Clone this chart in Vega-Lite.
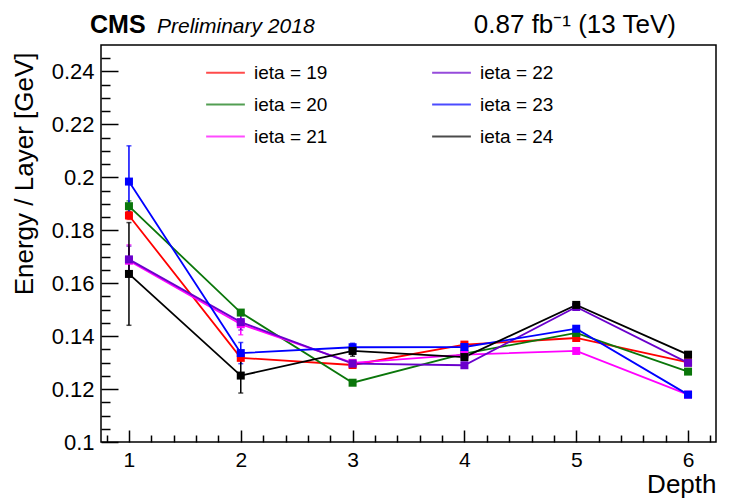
{
  "$schema": "https://vega.github.io/schema/vega-lite/v6.json",
  "autosize": {"type": "none"},
  "padding": {"left": 101, "top": 45, "right": 14, "bottom": 59},
  "width": 615,
  "height": 397,
  "background": "white",
  "config": {
    "view": {"stroke": "black", "strokeWidth": 1.5},
    "font": "Liberation Sans",
    "axis": {
      "labelFont": "Liberation Sans",
      "titleFont": "Liberation Sans",
      "labelColor": "black",
      "titleColor": "black",
      "tickColor": "black",
      "domain": false,
      "grid": false,
      "tickWidth": 1.5,
      "labelFontSize": 22,
      "titleFontSize": 26,
      "titleFontWeight": "normal"
    }
  },
  "data": {
    "values": [
      {"depth": 1, "ieta": "ieta = 19", "v": 0.1856, "err": 0.0015},
      {"depth": 2, "ieta": "ieta = 19", "v": 0.1318, "err": 0.001},
      {"depth": 3, "ieta": "ieta = 19", "v": 0.1291, "err": 0.0008},
      {"depth": 4, "ieta": "ieta = 19", "v": 0.1368, "err": 0.0008},
      {"depth": 5, "ieta": "ieta = 19", "v": 0.1393, "err": 0.0006},
      {"depth": 6, "ieta": "ieta = 19", "v": 0.1301, "err": 0.0006},
      {"depth": 1, "ieta": "ieta = 20", "v": 0.1891, "err": 0.002},
      {"depth": 2, "ieta": "ieta = 20", "v": 0.1489, "err": 0.001},
      {"depth": 3, "ieta": "ieta = 20", "v": 0.1224, "err": 0.0008},
      {"depth": 4, "ieta": "ieta = 20", "v": 0.1334, "err": 0.0008},
      {"depth": 5, "ieta": "ieta = 20", "v": 0.1412, "err": 0.0006},
      {"depth": 6, "ieta": "ieta = 20", "v": 0.1266, "err": 0.0006},
      {"depth": 1, "ieta": "ieta = 21", "v": 0.1685, "err": 0.006},
      {"depth": 2, "ieta": "ieta = 21", "v": 0.1445, "err": 0.004},
      {"depth": 3, "ieta": "ieta = 21", "v": 0.1299, "err": 0.001},
      {"depth": 4, "ieta": "ieta = 21", "v": 0.1330, "err": 0.0008},
      {"depth": 5, "ieta": "ieta = 21", "v": 0.1344, "err": 0.0006},
      {"depth": 6, "ieta": "ieta = 21", "v": 0.1179, "err": 0.0006},
      {"depth": 1, "ieta": "ieta = 22", "v": 0.1690, "err": 0.005},
      {"depth": 2, "ieta": "ieta = 22", "v": 0.1453, "err": 0.003},
      {"depth": 3, "ieta": "ieta = 22", "v": 0.1296, "err": 0.001},
      {"depth": 4, "ieta": "ieta = 22", "v": 0.1290, "err": 0.0008},
      {"depth": 5, "ieta": "ieta = 22", "v": 0.1510, "err": 0.0006},
      {"depth": 6, "ieta": "ieta = 22", "v": 0.1299, "err": 0.0006},
      {"depth": 1, "ieta": "ieta = 23", "v": 0.1984, "err": 0.0135},
      {"depth": 2, "ieta": "ieta = 23", "v": 0.1336, "err": 0.004},
      {"depth": 3, "ieta": "ieta = 23", "v": 0.1358, "err": 0.0015},
      {"depth": 4, "ieta": "ieta = 23", "v": 0.1359, "err": 0.001},
      {"depth": 5, "ieta": "ieta = 23", "v": 0.1428, "err": 0.0008},
      {"depth": 6, "ieta": "ieta = 23", "v": 0.1179, "err": 0.0006},
      {"depth": 1, "ieta": "ieta = 24", "v": 0.1635, "err": 0.0194},
      {"depth": 2, "ieta": "ieta = 24", "v": 0.1251, "err": 0.0066},
      {"depth": 3, "ieta": "ieta = 24", "v": 0.1344, "err": 0.002},
      {"depth": 4, "ieta": "ieta = 24", "v": 0.1321, "err": 0.001},
      {"depth": 5, "ieta": "ieta = 24", "v": 0.1518, "err": 0.0008},
      {"depth": 6, "ieta": "ieta = 24", "v": 0.1330, "err": 0.0006}
    ]
  },
  "resolve": {"axis": {"x": "independent", "y": "independent"}},
  "layer": [
    {
      "mark": {"type": "errorbar", "ticks": {"size": 5}, "thickness": 1.5},
      "encoding": {
        "x": {"field": "depth", "type": "quantitative",
              "scale": {"domain": [0.75, 6.25], "nice": false, "zero": false},
              "axis": {"orient": "bottom", "values": [0.8, 1.2, 1.4, 1.6, 1.8, 2.2, 2.4, 2.6, 2.8, 3.2, 3.4, 3.6, 3.8, 4.2, 4.4, 4.6, 4.8, 5.2, 5.4, 5.6, 5.8, 6.2], "labels": false, "tickSize": -7, "title": null}},
        "y": {"field": "v", "type": "quantitative",
              "scale": {"domain": [0.1, 0.25], "nice": false, "zero": false},
              "axis": {"orient": "left", "values": [0.105, 0.11, 0.115, 0.125, 0.13, 0.135, 0.145, 0.15, 0.155, 0.165, 0.17, 0.175, 0.185, 0.19, 0.195, 0.205, 0.21, 0.215, 0.225, 0.23, 0.235, 0.245], "labels": false, "tickSize": -9, "title": null}},
        "yError": {"field": "err"},
        "color": {"field": "ieta", "type": "nominal"}
      }
    },
    {
      "mark": {"type": "line", "strokeWidth": 1.8, "point": {"shape": "square", "filled": true, "size": 64, "opacity": 1}},
      "encoding": {
        "x": {"field": "depth", "type": "quantitative",
              "axis": {"orient": "bottom", "values": [1, 2, 3, 4, 5, 6], "tickSize": -12, "labelPadding": 19, "labelFontSize": 21, "title": "Depth", "titleAnchor": "end", "titleAlign": "right", "titleX": 615, "titleY": 50, "titleBaseline": "alphabetic"}},
        "y": {"field": "v", "type": "quantitative",
              "axis": {"orient": "left", "values": [0.1, 0.12, 0.14, 0.16, 0.18, 0.2, 0.22, 0.24], "format": ".2~f", "tickSize": -17, "labelPadding": 24, "labelFlush": false, "title": "Energy / Layer [GeV]", "titleAngle": 270, "titleAlign": "right", "titleBaseline": "alphabetic", "titleX": -69, "titleY": 7}},
        "color": {"field": "ieta", "type": "nominal",
                  "scale": {"domain": ["ieta = 19", "ieta = 20", "ieta = 21", "ieta = 22", "ieta = 23", "ieta = 24"],
                            "range": ["#ff0000", "#0a760a", "#ff00ff", "#6a00cc", "#0000ff", "#000000"]},
                  "legend": {"orient": "none", "legendX": 104, "legendY": 7, "columns": 2, "title": null,
                             "symbolType": "stroke", "symbolSize": 1500, "symbolStrokeWidth": 2,
                             "labelFont": "Liberation Sans", "labelFontSize": 19, "labelColor": "black",
                             "labelOffset": 8, "rowPadding": 1, "columnPadding": 100, "padding": 0, "labelLimit": 300}}
      }
    },
    {
      "data": {"values": [{}]},
      "mark": {"type": "text", "text": "CMS", "font": "Liberation Sans", "fontWeight": "bold", "fontSize": 25, "align": "left", "baseline": "alphabetic", "dx": -11, "dy": -12, "color": "black"},
      "encoding": {"x": {"datum": 0.75, "type": "quantitative", "axis": null}, "y": {"datum": 0.25, "type": "quantitative", "axis": null}}
    },
    {
      "data": {"values": [{}]},
      "mark": {"type": "text", "text": "Preliminary 2018", "font": "Liberation Sans", "fontStyle": "italic", "fontSize": 21, "align": "left", "baseline": "alphabetic", "dx": 56, "dy": -12, "color": "black"},
      "encoding": {"x": {"datum": 0.75, "type": "quantitative", "axis": null}, "y": {"datum": 0.25, "type": "quantitative", "axis": null}}
    },
    {
      "data": {"values": [{}]},
      "mark": {"type": "text", "text": "0.87 fb⁻¹ (13 TeV)", "font": "Liberation Sans", "fontSize": 26, "align": "right", "baseline": "alphabetic", "dx": -40, "dy": -12, "color": "black"},
      "encoding": {"x": {"datum": 6.25, "type": "quantitative", "axis": null}, "y": {"datum": 0.25, "type": "quantitative", "axis": null}}
    }
  ]
}
